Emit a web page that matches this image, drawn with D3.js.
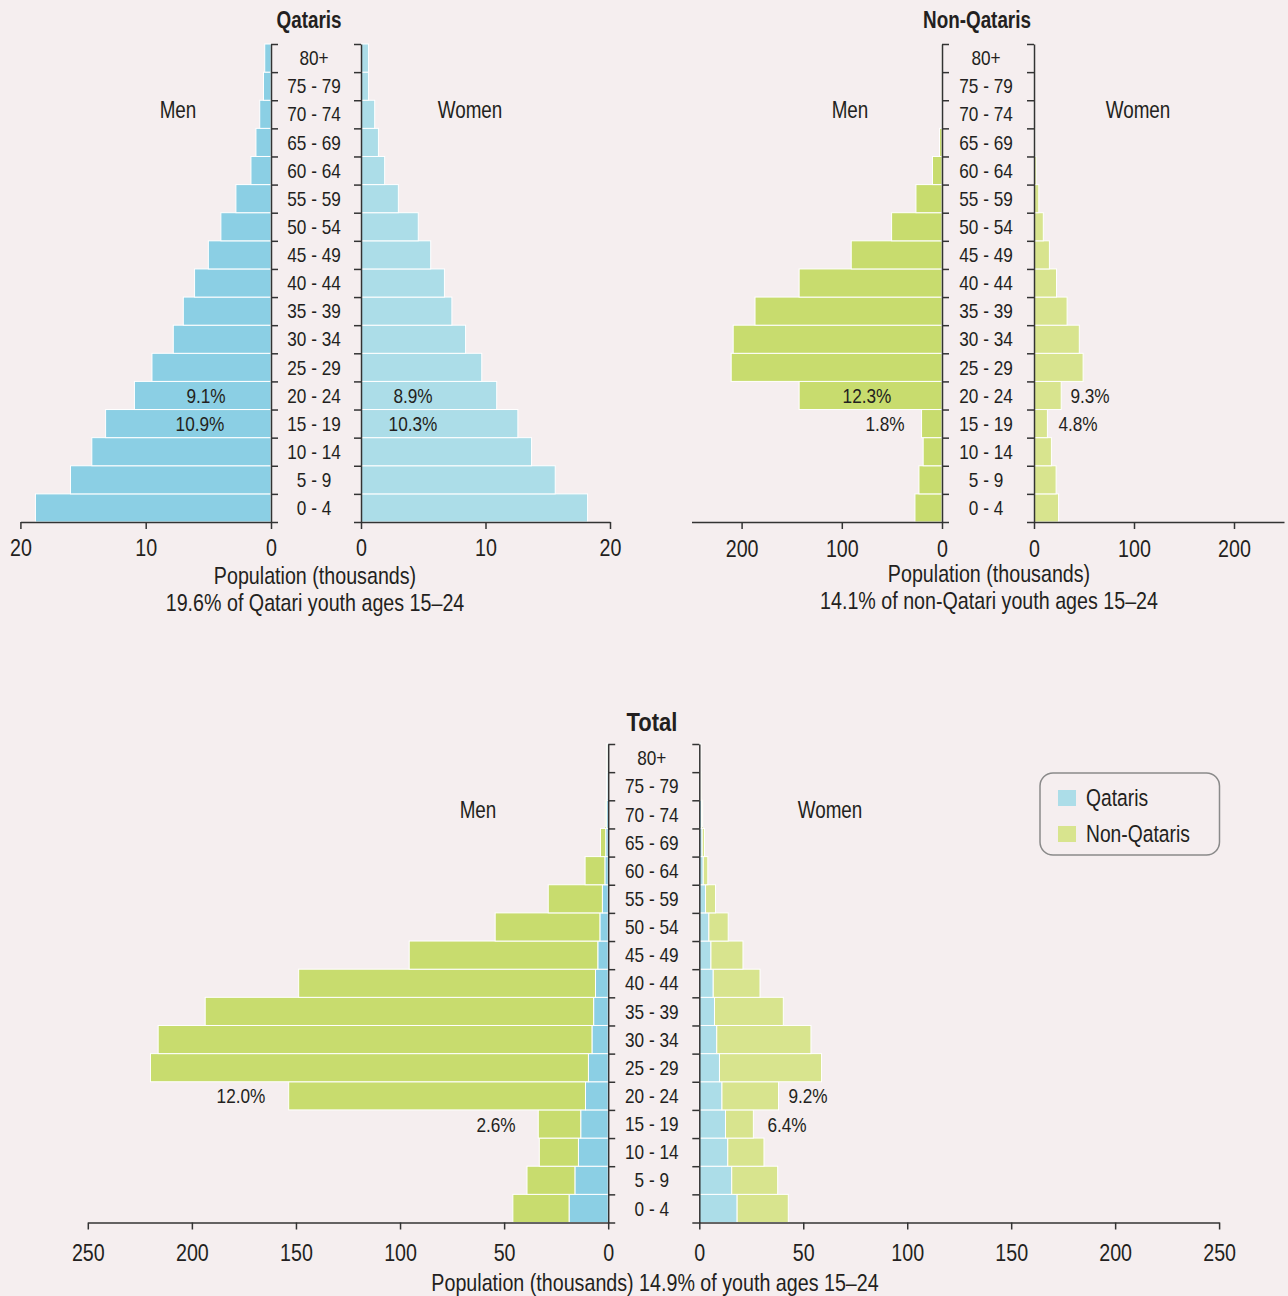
<!DOCTYPE html>
<html>
<head>
<meta charset="utf-8">
<script src="https://cdn.jsdelivr.net/npm/d3@7"></script>
<style>
  html, body { margin: 0; padding: 0; background: #f5eeef; }
  svg { display: block; }
  text { font-family: "Liberation Sans Narrow", "Liberation Sans", Arial, sans-serif; fill: #231f20; }
</style>
</head>
<body>
<svg id="chart" width="1288" height="1296"></svg>
<script>
// ---------- DATA (thousands) ----------
const ageGroups = ["0 - 4", "5 - 9", "10 - 14", "15 - 19", "20 - 24", "25 - 29", "30 - 34", "35 - 39",
  "40 - 44", "45 - 49", "50 - 54", "55 - 59", "60 - 64", "65 - 69", "70 - 74", "75 - 79", "80+"];
const qatariMen      = [18.8, 16.0, 14.3, 13.2, 10.9, 9.5, 7.8, 7.0, 6.1, 5.0, 4.0, 2.8, 1.6, 1.2, 0.9, 0.6, 0.5];
const qatariWomen    = [18.2, 15.6, 13.7, 12.6, 10.9, 9.7, 8.4, 7.3, 6.7, 5.6, 4.6, 3.0, 1.9, 1.4, 1.1, 0.6, 0.6];
const nonQatariMen   = [27.0, 23.0, 18.8, 20.4, 142.6, 210.4, 208.4, 186.6, 142.6, 90.6, 50.3, 26.0, 9.5, 2.5, 0.5, 0.2, 0.1];
const nonQatariWomen = [24.6, 22.1, 17.4, 13.4, 27.2, 49.1, 45.3, 33.1, 22.5, 15.4, 9.3, 4.8, 2.2, 1.1, 0.5, 0.3, 0.2];
const qatariTicks = [0, 10, 20];
const nonQatariTicks = [0, 100, 200];
const totalTicks = [0, 50, 100, 150, 200, 250];
const seriesNames = ["Qataris", "Non-Qataris"];
// percentage annotations: [age group, text]
const qatariMenPct = [["20 - 24", "9.1%"], ["15 - 19", "10.9%"]];
const qatariWomenPct = [["20 - 24", "8.9%"], ["15 - 19", "10.3%"]];
const nonQatariMenPct = [["20 - 24", "12.3%"], ["15 - 19", "1.8%"]];
const nonQatariWomenPct = [["20 - 24", "9.3%"], ["15 - 19", "4.8%"]];
const totalMenPct = [["20 - 24", "12.0%"], ["15 - 19", "2.6%"]];
const totalWomenPct = [["20 - 24", "9.2%"], ["15 - 19", "6.4%"]];

// ---------- STYLE ----------
const C = {
  menQ: "#8bcfe4", womenQ: "#acdde8",
  menN: "#c8dc6e", womenN: "#d8e48e",
  axis: "#333333"
};
const SX = 0.82; // horizontal condensing of the sans font
const svg = d3.select("#chart");

function addText(g, x, y, t, size, opts = {}) {
  return g.append("text")
    .attr("transform", `translate(${x},${y}) scale(${opts.sx || SX},1)`)
    .attr("text-anchor", opts.anchor || "middle")
    .attr("dy", "0.36em")
    .style("font-size", size + "px")
    .style("font-weight", opts.bold ? "bold" : "normal")
    .text(t);
}

function panel(cfg) {
  const g = svg.append("g");
  const y = d3.scaleBand().domain(ageGroups.slice().reverse()).range([cfg.top, cfg.bottom]).padding(0);
  const xL = d3.scaleLinear().domain([0, cfg.max]).range([cfg.zeroL, cfg.endL]);
  const xR = d3.scaleLinear().domain([0, cfg.max]).range([cfg.zeroR, cfg.endR]);

  // bars (stacked series)
  cfg.menSeries.forEach((s) => {
    g.append("g").selectAll("rect").data(ageGroups).join("rect")
      .attr("x", (d, i) => xL(s.base[i] + s.values[i]))
      .attr("width", (d, i) => Math.max(0, xL(s.base[i]) - xL(s.base[i] + s.values[i])))
      .attr("y", d => y(d))
      .attr("height", y.bandwidth())
      .attr("fill", s.color).attr("stroke", "#ffffff").attr("stroke-width", 1);
  });
  cfg.womenSeries.forEach((s) => {
    g.append("g").selectAll("rect").data(ageGroups).join("rect")
      .attr("x", (d, i) => xR(s.base[i]))
      .attr("width", (d, i) => Math.max(0, xR(s.base[i] + s.values[i]) - xR(s.base[i])))
      .attr("y", d => y(d))
      .attr("height", y.bandwidth())
      .attr("fill", s.color).attr("stroke", "#ffffff").attr("stroke-width", 1);
  });

  // horizontal axes
  const axL = g.append("g").attr("transform", `translate(0,${cfg.bottom})`)
    .call(d3.axisBottom(xL).tickValues(cfg.ticks).tickSizeOuter(0).tickSizeInner(7).tickPadding(cfg.tickPad));
  const axR = g.append("g").attr("transform", `translate(0,${cfg.bottom})`)
    .call(d3.axisBottom(xR).tickValues(cfg.ticks).tickSizeOuter(0).tickSizeInner(7).tickPadding(cfg.tickPad));
  [axL, axR].forEach(a => {
    a.selectAll("path,line").attr("stroke", C.axis).attr("stroke-width", 1.5);
    a.selectAll("text").style("font-size", "24px").attr("fill", "#231f20")
      .attr("transform", `scale(${SX},1)`);
  });

  // vertical axes at band boundaries
  const yb = d3.scaleLinear().domain([0, ageGroups.length]).range([cfg.bottom, cfg.top]);
  const vL = g.append("g").attr("transform", `translate(${cfg.zeroL},0)`)
    .call(d3.axisRight(yb).tickValues(d3.range(ageGroups.length + 1)).tickFormat("").tickSizeOuter(0).tickSizeInner(7));
  const vR = g.append("g").attr("transform", `translate(${cfg.zeroR},0)`)
    .call(d3.axisLeft(yb).tickValues(d3.range(ageGroups.length + 1)).tickFormat("").tickSizeOuter(0).tickSizeInner(7));
  [vL, vR].forEach(a => a.selectAll("path,line").attr("stroke", C.axis).attr("stroke-width", 1.5));

  // age labels
  const midX = (cfg.zeroL + cfg.zeroR) / 2 - 2;
  ageGroups.forEach(a => addText(g, midX, y(a) + y.bandwidth() / 2, a, 20, { sx: 0.86 }));

  // title
  addText(g, cfg.titleX, cfg.titleY, cfg.title, cfg.titleSize, { bold: true, sx: cfg.titleSx });

  // Men / Women
  addText(g, cfg.menX, cfg.top + 66, "Men", 23);
  addText(g, cfg.womenX, cfg.top + 66, "Women", 23);

  // percentages
  cfg.menPct.forEach(([age, t], k) => addText(g, cfg.menPctX[k], y(age) + y.bandwidth() / 2, t, 21));
  cfg.womenPct.forEach(([age, t], k) => addText(g, cfg.womenPctX[k], y(age) + y.bandwidth() / 2, t, 21));

  // axis title lines
  cfg.captions.forEach(c => addText(g, c.x, c.y, c.text, 24));
  return g;
}

const zeros = ageGroups.map(() => 0);

panel({
  title: "Qataris", titleX: 309, titleY: 20, titleSize: 23, titleSx: 0.82, top: 44, bottom: 522,
  max: 20, zeroL: 271, endL: 20.4, zeroR: 361, endR: 610, ticks: qatariTicks, tickPad: 10,
  menSeries: [{ values: qatariMen, base: zeros, color: C.menQ }],
  womenSeries: [{ values: qatariWomen, base: zeros, color: C.womenQ }],
  menX: 178, womenX: 470,
  menPct: qatariMenPct, menPctX: [206, 200],
  womenPct: qatariWomenPct, womenPctX: [413, 413],
  captions: [
    { x: 315, y: 575, text: "Population (thousands)" },
    { x: 315, y: 602, text: "19.6% of Qatari youth ages 15\u201324" }
  ]
});

panel({
  title: "Non-Qataris", titleX: 977, titleY: 20, titleSize: 23, titleSx: 0.82, top: 44, bottom: 522,
  max: 250, zeroL: 942, endL: 691.5, zeroR: 1034, endR: 1284, ticks: nonQatariTicks, tickPad: 11,
  menSeries: [{ values: nonQatariMen, base: zeros, color: C.menN }],
  womenSeries: [{ values: nonQatariWomen, base: zeros, color: C.womenN }],
  menX: 850, womenX: 1138,
  menPct: nonQatariMenPct, menPctX: [867, 885],
  womenPct: nonQatariWomenPct, womenPctX: [1090, 1078],
  captions: [
    { x: 989, y: 573, text: "Population (thousands)" },
    { x: 989, y: 600, text: "14.1% of non-Qatari youth ages 15\u201324" }
  ]
});

panel({
  title: "Total", titleX: 652, titleY: 722, titleSize: 25, titleSx: 0.88, top: 744, bottom: 1222.5,
  max: 250, zeroL: 608.2, endL: 87.8, zeroR: 699.3, endR: 1219.1, ticks: totalTicks, tickPad: 14,
  menSeries: [
    { values: qatariMen, base: zeros, color: C.menQ },
    { values: nonQatariMen, base: qatariMen, color: C.menN }
  ],
  womenSeries: [
    { values: qatariWomen, base: zeros, color: C.womenQ },
    { values: nonQatariWomen, base: qatariWomen, color: C.womenN }
  ],
  menX: 478, womenX: 830,
  menPct: totalMenPct, menPctX: [241, 496],
  womenPct: totalWomenPct, womenPctX: [808, 787],
  captions: [
    { x: 655, y: 1282, text: "Population (thousands) 14.9% of youth ages 15\u201324" }
  ]
});

// legend
const leg = svg.append("g");
leg.append("rect").attr("x", 1040).attr("y", 773).attr("width", 179.5).attr("height", 82)
  .attr("rx", 13).attr("fill", "none").attr("stroke", "#8a8a8a").attr("stroke-width", 1.5);
const legColors = [C.womenQ, C.womenN];
seriesNames.forEach((d, i) => {
  const yy = 798 + i * 36;
  leg.append("rect").attr("x", 1058).attr("y", yy - 8).attr("width", 18).attr("height", 16)
    .attr("fill", legColors[i]);
  addText(leg, 1086, yy, d, 23.5, { anchor: "start" });
});
</script>
</body>
</html>
